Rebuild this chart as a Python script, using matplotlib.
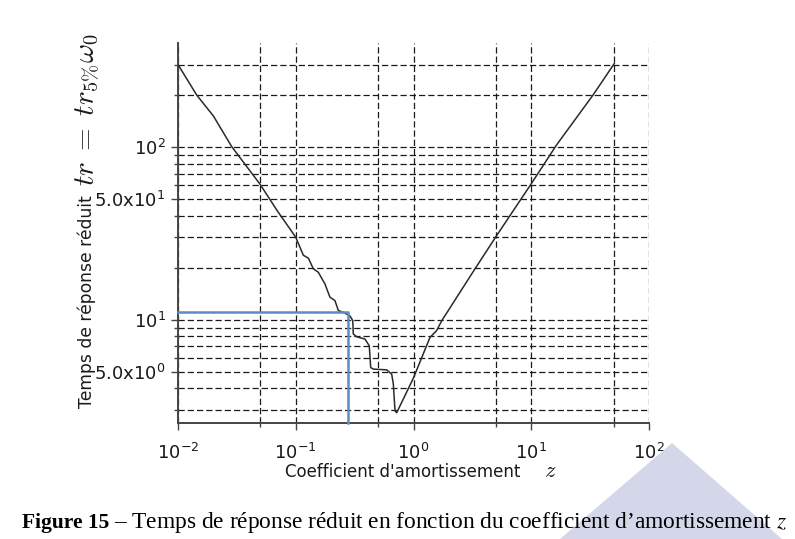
import matplotlib
matplotlib.use("Agg")
import matplotlib.pyplot as plt
from matplotlib.ticker import FixedLocator, FixedFormatter, NullFormatter
from matplotlib.patches import Polygon

# reduced response time tr5% * w0 versus damping ratio z
z = [0.01, 0.0144, 0.02, 0.0286, 0.0497, 0.07, 0.1, 0.116, 0.128, 0.141,
     0.1555, 0.177, 0.195, 0.215, 0.23, 0.262, 0.289, 0.305, 0.308, 0.329,
     0.387, 0.421, 0.433, 0.456, 0.592, 0.653, 0.674, 0.697, 0.72, 1.0,
     1.38, 1.57, 1.74, 3.33, 4.99, 9.95, 16.4, 33.6, 50.7]
tr = [300, 200, 151, 100.4, 60.9, 42.5, 30.0, 23.6, 22.7, 19.7,
      18.8, 16.1, 13.5, 12.9, 11.3, 10.9, 10.5, 9.87, 8.26, 7.96,
      7.72, 7.06, 5.28, 5.17, 5.12, 4.83, 4.23, 2.96, 2.89, 4.6,
      7.89, 8.63, 9.87, 19.7, 30.1, 60.9, 102.7, 200.6, 304]

# reading shown in blue
z_read = 0.28
tr_read = 11.0

x_major = [0.01, 0.1, 1, 10, 100]
x_labels = [r"$\mathregular{10^{-2}}$", r"$\mathregular{10^{-1}}$",
            r"$\mathregular{10^{0}}$", r"$\mathregular{10^{1}}$",
            r"$\mathregular{10^{2}}$"]
x_minor = [0.05, 0.5, 5, 50]
y_major = [5, 10, 50, 100]
y_labels = [r"$\mathregular{5.0x10^{0}}$", r"$\mathregular{10^{1}}$",
            r"$\mathregular{5.0x10^{1}}$", r"$\mathregular{10^{2}}$"]
y_minor = [3, 4, 6, 7, 8, 9, 20, 30, 40, 60, 70, 80, 90, 200, 300]

W, H = 795, 539
fig = plt.figure(figsize=(W / 100, H / 100), dpi=100)

# watermark triangle behind the caption
tri = Polygon([(672 / W, 96 / H), (560 / W, 0), (782 / W, 0)], closed=True,
              transform=fig.transFigure, facecolor="#d4d7e9", edgecolor="none",
              zorder=0)
fig.patches.append(tri)

ax = fig.add_axes([178 / W, 116 / H, 471 / W, 380 / H])
ax.patch.set_visible(False)
ax.set_xscale("log")
ax.set_yscale("log")
xmin, xmax = 0.01, 100
ymin, ymax = 2.52, 400
ax.set_xlim(xmin, xmax)
ax.set_ylim(ymin, ymax)

ax.xaxis.set_major_locator(FixedLocator(x_major))
ax.xaxis.set_major_formatter(FixedFormatter(x_labels))
ax.xaxis.set_minor_locator(FixedLocator(x_minor))
ax.xaxis.set_minor_formatter(NullFormatter())
ax.yaxis.set_major_locator(FixedLocator(y_major))
ax.yaxis.set_major_formatter(FixedFormatter(y_labels))
ax.yaxis.set_minor_locator(FixedLocator(y_minor))
ax.yaxis.set_minor_formatter(NullFormatter())

ax.set_axisbelow(True)
ax.grid(which="both", color="#1a1a1a", linestyle=(0, (5, 2.4)), linewidth=0.9)

for s in ["top", "right"]:
    ax.spines[s].set_visible(False)
for s in ["left", "bottom"]:
    ax.spines[s].set_color("#444444")
    ax.spines[s].set_linewidth(1.4)

ax.tick_params(which="major", direction="out", length=5, width=1,
               color="#444444", labelsize=13, pad=4, labelcolor="#1a1a1a")
ax.tick_params(axis="x", which="major", pad=9)
ax.tick_params(which="minor", direction="out", length=3, width=1,
               color="#444444")

ax.plot(z, tr, color="#2a2a2a", linewidth=1.1, zorder=3)
ax.plot([xmin, z_read, z_read], [tr_read, tr_read, ymin], color="#5b8cc8",
        linewidth=1.8, zorder=4, clip_on=False)

# axis titles
fig.text(285 / W, 62 / H, "Coefficient d'amortissement", fontsize=12,
         ha="left", va="baseline", color="#1a1a1a")
fig.text(550 / W, 62 / H, "$z$", fontsize=16, math_fontfamily="cm",
         ha="center", va="baseline", color="#1a1a1a")
fig.text(92 / W, (H - 302) / H, "Temps de réponse réduit", fontsize=12.3,
         rotation=90, rotation_mode="anchor", ha="center", va="baseline",
         color="#1a1a1a")
fig.text(94 / W, (H - 109) / H, r"$tr\;=\;tr_{5\%}\omega_0$", fontsize=21,
         math_fontfamily="cm", rotation=90, rotation_mode="anchor",
         ha="center", va="baseline", color="#1a1a1a")

# caption
renderer = fig.canvas.get_renderer()
cap1 = fig.text(22 / W, 11 / H, "Figure 15", fontsize=15.5,
                family="Liberation Serif", weight="bold", ha="left",
                va="baseline")
bb = cap1.get_window_extent(renderer)
fig.text((bb.x1 + 5) / W, 11 / H,
         "– Temps de réponse réduit en fonction du coefficient d’amortissement $z$",
         fontsize=16.8, family="Liberation Serif", math_fontfamily="stix",
         ha="left", va="baseline")

fig.savefig("out.png", dpi=100)
